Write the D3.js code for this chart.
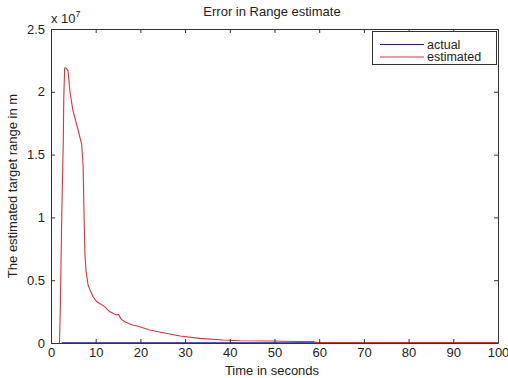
<!DOCTYPE html>
<html><head><meta charset="utf-8">
<script src="https://cdn.jsdelivr.net/npm/d3@7/dist/d3.min.js"></script>
<style>body{margin:0;background:#fff}svg{display:block}text{font-family:"Liberation Sans",Arial,sans-serif;fill:#222}</style>
</head><body>
<script>
// Data (values in units of 1e7 m)
const estTime = [1.9,2.1,2.35,2.57,2.75,2.86,3.06,3.36,3.8,4.25,4.9,5.9,6.87,7.2,7.4,7.6,7.83,8.3,8.75,9.4,10.2,12.0,13.1,14.6,15.1,15.7,16.5,18.2,19.3,22.1,25.1,28.9,33.3,38.5,42.3,49,55,58.6,59.5,100];
const estValue = [0,0.3,0.9,1.3,1.6,1.95,2.19,2.19,2.17,2.0,1.85,1.72,1.58,1.4,1.0,0.7,0.58,0.46,0.42,0.37,0.33,0.29,0.25,0.223,0.228,0.19,0.17,0.143,0.135,0.103,0.082,0.056,0.037,0.024,0.018,0.016,0.012,0.012,0.003,0.003];
const actTime = [2.4,20,40,60,80,100];
const actValue = [0.001,0.001,0.001,0.001,0.001,0.001];
const xTicks = [0,10,20,30,40,50,60,70,80,90,100];
const yTicks = [0,0.5,1,1.5,2,2.5];
const yTickLabels = ["0","0.5","1","1.5","2","2.5"];
const legendLabels = ["actual","estimated"];
const colors = ["#1c1c9a","#d8343a"];

const W=508,H=378,FS=13;
const m={l:51,r:498,t:29,b:343};
const svg=d3.select("body").append("svg").attr("width",W).attr("height",H);
const x=d3.scaleLinear().domain([0,100]).range([m.l,m.r]);
const y=d3.scaleLinear().domain([0,2.5]).range([m.b,m.t]);

svg.append("rect").attr("width",W).attr("height",H).attr("fill","#fff");

const line=d3.line().x(d=>x(d[0])).y(d=>y(d[1]));
const act=actTime.map((t,i)=>[t,actValue[i]]);
const est=estTime.map((t,i)=>[t,estValue[i]]);
svg.append("path").datum(act).attr("d",line).attr("fill","none").attr("stroke",colors[0]).attr("stroke-width",1.2);
svg.append("path").datum(est).attr("d",line).attr("fill","none").attr("stroke",colors[1]).attr("stroke-width",1.1);

const ax="#333";
const gB=svg.append("g").attr("transform",`translate(0,${m.b})`)
  .call(d3.axisBottom(x).tickValues(xTicks).tickSizeInner(-4).tickSizeOuter(0).tickPadding(5).tickFormat(d3.format("d")));
const gT=svg.append("g").attr("transform",`translate(0,${m.t})`)
  .call(d3.axisTop(x).tickValues(xTicks).tickSizeInner(-4).tickSizeOuter(0).tickFormat(""));
const gL=svg.append("g").attr("transform",`translate(${m.l},0)`)
  .call(d3.axisLeft(y).tickValues(yTicks).tickSizeInner(-4).tickSizeOuter(0).tickPadding(6).tickFormat((d,i)=>yTickLabels[i]));
const gR=svg.append("g").attr("transform",`translate(${m.r},0)`)
  .call(d3.axisRight(y).tickValues(yTicks).tickSizeInner(-4).tickSizeOuter(0).tickFormat(""));
[gB,gT,gL,gR].forEach(g=>{
  g.selectAll("path,line").attr("stroke",ax).attr("stroke-width",1);
  g.selectAll("text").attr("font-size",FS).attr("fill","#222").style("font-family","Liberation Sans, Arial, sans-serif");
});

svg.append("text").attr("x",272).attr("y",16).attr("text-anchor","middle").attr("font-size",FS).text("Error in Range estimate");
svg.append("text").attr("x",272).attr("y",375).attr("text-anchor","middle").attr("font-size",FS).text("Time in seconds");
svg.append("text").attr("transform","translate(17,186) rotate(-90)").attr("text-anchor","middle").attr("font-size",FS).text("The estimated target range in m");
const ex=svg.append("text").attr("x",51).attr("y",23).attr("font-size",FS);
ex.append("tspan").text("x 10");
ex.append("tspan").attr("dy",-6).attr("font-size",9).text("7");

const lg=svg.append("g");
lg.append("rect").attr("x",372.5).attr("y",31.5).attr("width",124).attr("height",33).attr("fill","#fff").attr("stroke",ax);
legendLabels.forEach((l,i)=>{
  const yy=44.5+i*12.5;
  lg.append("line").attr("x1",380).attr("x2",424).attr("y1",yy).attr("y2",yy).attr("stroke",colors[i]).attr("stroke-width",1.1);
  lg.append("text").attr("x",427).attr("y",yy+4).attr("font-size",12.5).text(l);
});
</script>
</body></html>
